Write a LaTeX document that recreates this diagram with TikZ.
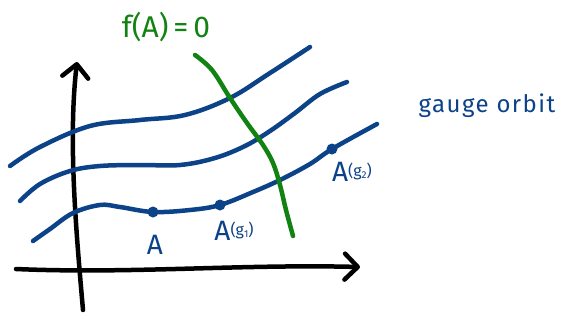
\documentclass[tikz,border=0pt]{standalone}
\usepackage{fontspec}
\setmainfont{Fira Sans}
\usetikzlibrary{arrows.meta}
\definecolor{orbitblue}{RGB}{12,66,136}
\definecolor{constgreen}{RGB}{18,130,18}
\tikzset{
  axis/.style={line width=4.5pt, line cap=round, black,
    -{Straight Barb[length=13pt,width=26pt,line cap=round,line join=round]}},
  orbit/.style={line width=4.5pt, line cap=round, orbitblue},
  constr/.style={line width=4.5pt, line cap=round, constgreen},
  dotpt/.style={circle, fill=orbitblue, inner sep=0pt, minimum size=11pt},
  bluelabel/.style={text=orbitblue, inner sep=0pt},
}
\begin{document}
\begin{tikzpicture}[x=1pt,y=-1pt]
\useasboundingbox (0,0) rectangle (565,322);
% axes
\coordinate (yb) at (83,310);
\coordinate (yt) at (77,62);
\coordinate (xl) at (16,269);
\coordinate (xr) at (360,267);
\draw[axis] (yb) .. controls (76,230) and (68,140) .. (yt);
\draw[axis] (xl) .. controls (130,274) and (240,264) .. (xr);
% gauge orbits
\draw[orbit] plot[smooth, tension=0.6] coordinates {(10,166) (40,147) (90,126) (140,120) (185,115) (230,98) (270,73) (310,47)};
\draw[orbit] plot[smooth, tension=0.6] coordinates {(20,201) (40,184) (70,171) (100,166) (140,165) (180,165) (215,158) (245,146) (270,131) (295,113) (320,94) (347,82)};
\draw[orbit] plot[smooth, tension=0.6] coordinates {(33,241) (50,229) (73,213) (100,205) (120,207) (153,212) (190,210) (220,205) (253,192) (280,180) (310,164) (332,149) (377,124)};
% gauge fixing surface
\draw[constr] plot[smooth, tension=0.6] coordinates {(195,55) (212,70) (230,98) (247,123) (263,145) (273,163) (280,185) (286,210) (293,236)};
% points
\node[dotpt] (pA) at (153,212) {};
\node[dotpt] (pG1) at (220,205) {};
\node[dotpt] (pG2) at (332,149) {};
% labels
\node[bluelabel, font=\fontsize{28}{28}\selectfont] (lA) at (155,245) {A};
\node[bluelabel, font=\fontsize{28}{28}\selectfont] (lG1) at (234,231) {A\raisebox{5pt}{\fontsize{16}{16}\selectfont(g\raisebox{-2pt}{\fontsize{10}{10}\selectfont 1})}};
\node[bluelabel, font=\fontsize{28}{28}\selectfont] (lG2) at (352,172) {A\raisebox{5pt}{\fontsize{16}{16}\selectfont(g\raisebox{-2pt}{\fontsize{10}{10}\selectfont 2})}};
\node[bluelabel, font=\fontsize{24}{24}\selectfont\addfontfeatures{LetterSpace=6}] (orb) at (487,106) {gauge orbit};
\node[text=constgreen, inner sep=0pt, font=\fontsize{30}{30}\selectfont] (fA) at (166,27) {f(A)\,=\,0};
\end{tikzpicture}
\end{document}
